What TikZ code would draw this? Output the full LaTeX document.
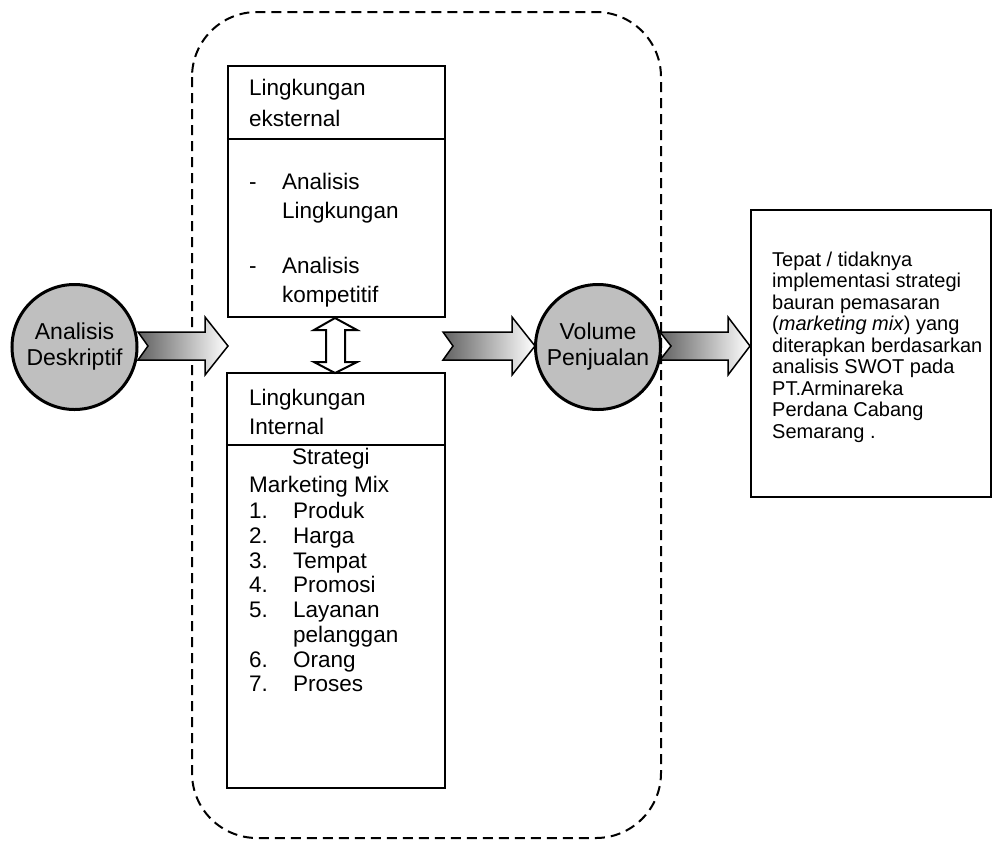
\documentclass[tikz,border=0pt]{standalone}
\usepackage{fontspec}
\setmainfont{Liberation Sans}
\usetikzlibrary{calc}
\begin{document}
\begin{tikzpicture}[x=1pt,y=-1pt,
  boxline/.style={draw=black,line width=2.5pt,fill=white,inner sep=0pt},
  txt/.style={anchor=base west,inner sep=0pt,font=\fontsize{22.5}{25}\selectfont},
  stxt/.style={anchor=base west,inner sep=0pt,font=\fontsize{20}{22}\selectfont},
  circ/.style={circle,draw=black,line width=3pt,fill=gray!50,minimum size=125pt,inner sep=0pt,align=center,font=\fontsize{23}{26}\selectfont},
  barrow/.style={draw=black,line width=1.5pt,left color=black!62,right color=white},
  darrow/.style={draw=black,line width=2pt,fill=white},
  border/.style={draw=black,line width=2pt,dash pattern=on 10pt off 6pt,rounded corners=65pt}
]
\useasboundingbox (0,0) rectangle (993,841);

% dashed group border
\draw[border] (192,12) rectangle (661,838);

% block arrows
\path[barrow] (138,332) -- (205,332) -- (205,317) -- (228,346) -- (205,375) -- (205,360) -- (138,360) -- (148,346) -- cycle;
\path[barrow] (443,332) -- (512,332) -- (512,317) -- (535,346) -- (512,375) -- (512,360) -- (443,360) -- (453,346) -- cycle;
\path[barrow] (660,332) -- (728,332) -- (728,317) -- (750,346) -- (728,375) -- (728,360) -- (660,360) -- (671,346) -- cycle;

% circles
\node[circ] (desk) at (74.5,347) {Analisis\\Deskriptif};
\node[circ] (vol) at (598,347) {Volume\\Penjualan};

% external box
\node[boxline,minimum width=217pt,minimum height=251pt] (ext) at (336.5,191.5) {};
\draw[black,line width=2.5pt] (ext.west |- 0,139) -- (ext.east |- 0,139);
\node[txt] (e1) at (249,95) {Lingkungan};
\node[txt] (e2) at (249,126) {eksternal};
\node[txt] (e3) at (249,189) {-};
\node[txt] (e4) at (282,189) {Analisis};
\node[txt] (e5) at (282,218) {Lingkungan};
\node[txt] (e6) at (249,273) {-};
\node[txt] (e7) at (282,273) {Analisis};
\node[txt] (e8) at (282,302) {kompetitif};

% internal box
\node[boxline,minimum width=218pt,minimum height=415pt] (int) at (336,580.5) {};
\draw[black,line width=2.5pt] (int.west |- 0,445) -- (int.east |- 0,445);
\node[txt] (i1) at (249,405) {Lingkungan};
\node[txt] (i2) at (249,434) {Internal};
\node[txt] (i3) at (292,464) {Strategi};
\node[txt] (i4) at (249,492) {Marketing Mix};
\foreach \n/\t/\y in {1./Produk/518,2./Harga/543,3./Tempat/568,4./Promosi/592,5./Layanan/617,6./Orang/667,7./Proses/691}{
  \node[txt] at (249,\y) {\n};
  \node[txt] at (293,\y) {\t};
}
\node[txt] (i5) at (293,642) {pelanggan};

% double arrow between boxes
\path[darrow] (335,318) -- (357,330) -- (345,330) -- (345,362) -- (357,362) -- (335,373) -- (314,362) -- (326,362) -- (326,330) -- (314,330) -- cycle;

% result box
\node[boxline,minimum width=240pt,minimum height=287pt] (res) at (871,353.5) {};
\node[stxt] (r1) at (772,266) {Tepat / tidaknya};
\node[stxt] (r2) at (772,287.5) {implementasi strategi};
\node[stxt] (r3) at (772,309) {bauran pemasaran};
\node[stxt] (r4) at (772,330.5) {(\textit{marketing mix}) yang};
\node[stxt] (r5) at (772,352) {diterapkan berdasarkan};
\node[stxt] (r6) at (772,373.5) {analisis SWOT pada};
\node[stxt] (r7) at (772,395) {PT.Arminareka};
\node[stxt] (r8) at (772,416.5) {Perdana Cabang};
\node[stxt] (r9) at (772,438) {Semarang .};
\end{tikzpicture}
\end{document}
